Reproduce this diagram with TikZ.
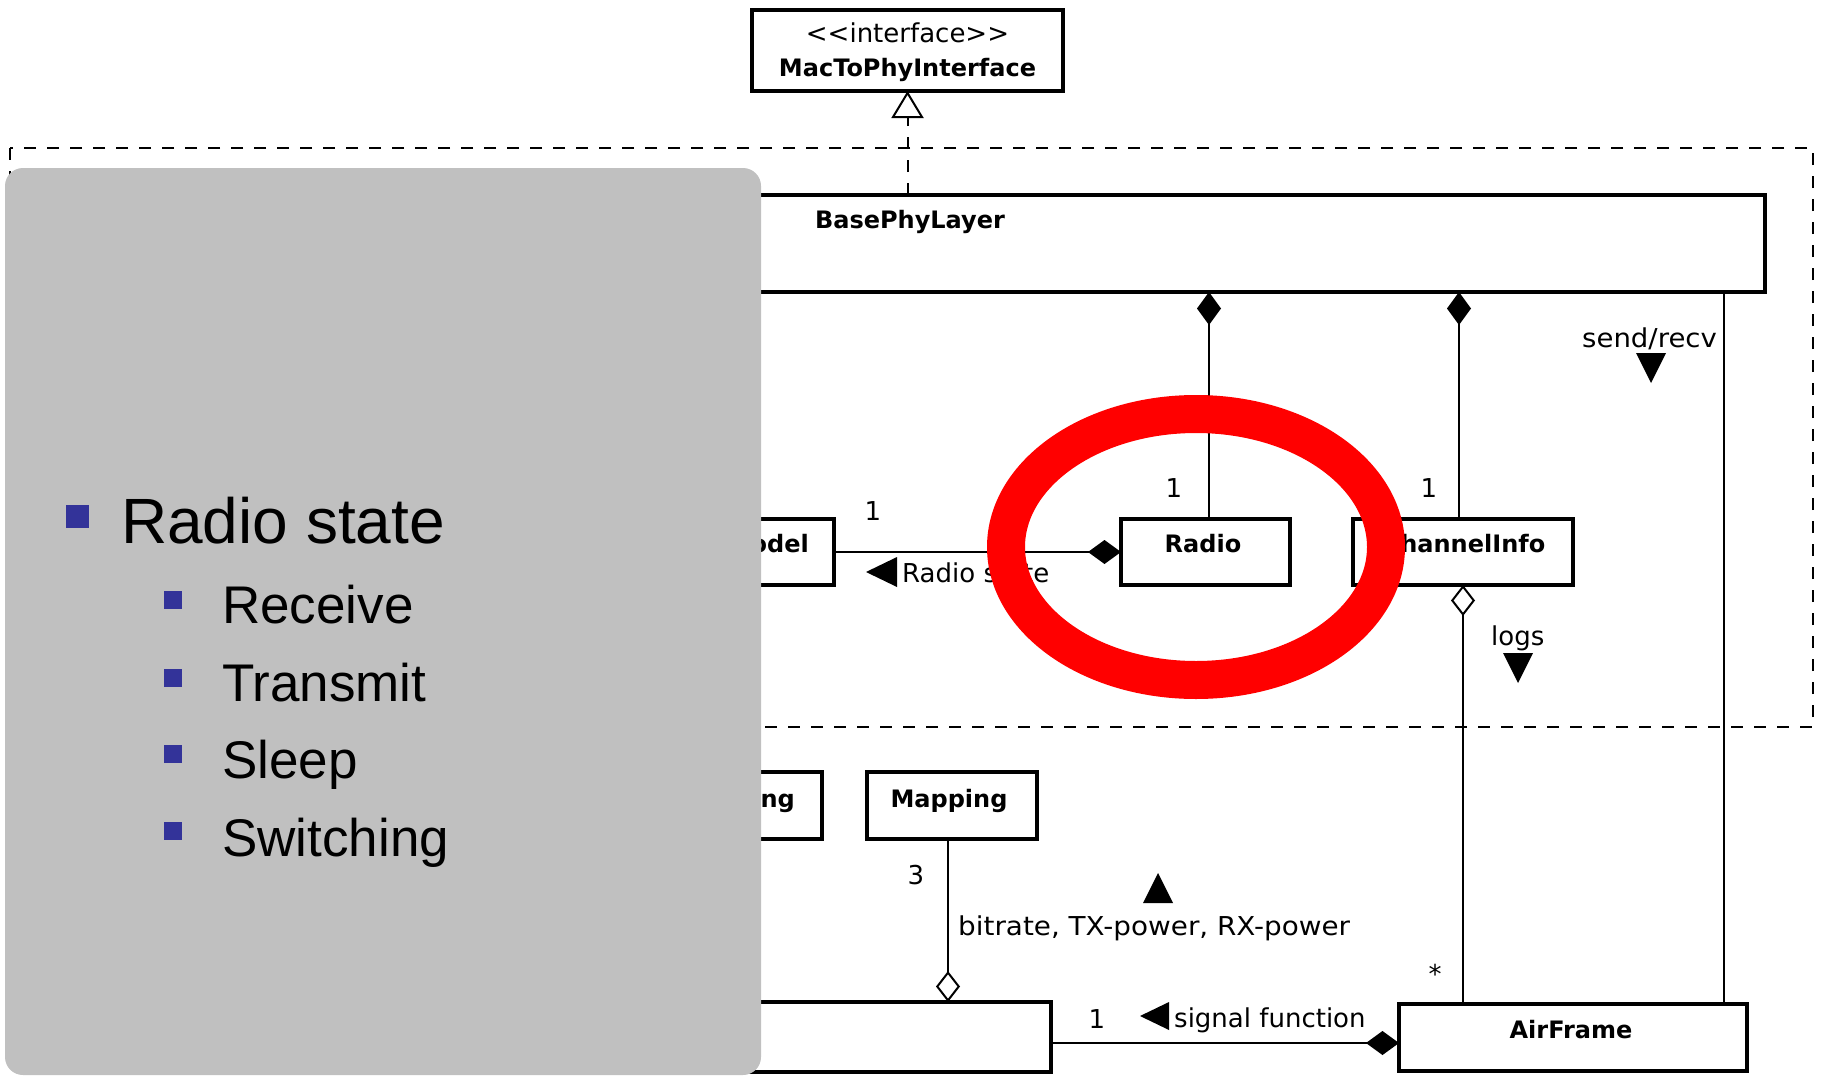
\documentclass[tikz,border=0pt]{standalone}
\usepackage{fontspec}
\newfontfamily\umlfont{DejaVu Sans}
\newfontfamily\slidefont{Liberation Sans}
\usetikzlibrary{arrows.meta}
\definecolor{panelgray}{RGB}{192,192,192}
\definecolor{bulletblue}{RGB}{51,51,153}

\tikzset{
  umlbox/.style={draw, line width=4pt, fill=white, inner sep=0pt, outer sep=0pt},
  clsname/.style={inner sep=0pt, font=\umlfont\bfseries\fontsize{24}{29}\selectfont},
  lbl/.style={inner sep=0pt, font=\umlfont\fontsize{26}{31}\selectfont},
  assoc/.style={line width=2pt},
  comp/.style={assoc, arrows={Diamond[length=33pt,width=24pt]-}},
  compend/.style={assoc, arrows={-Diamond[length=33pt,width=24pt]}},
  agg/.style={assoc, arrows={Diamond[open,length=31pt,width=24pt]-}},
  aggend/.style={assoc, arrows={-Diamond[open,length=31pt,width=24pt]}},
  realize/.style={line width=2pt, dash pattern=on 12pt off 11pt,
    arrows={-Triangle[open,length=27pt,width=32pt]}},
  pkgframe/.style={line width=2.5pt, dash pattern=on 12pt off 11pt},
  dirmark/.style={fill=black},
  ring/.style={draw=red, line width=38pt},
  panel/.style={fill=panelgray, rounded corners=18pt, inner sep=0pt},
  bulletsq/.style={fill=bulletblue, inner sep=0pt},
  slidemain/.style={inner sep=0pt, font=\slidefont\fontsize{64}{76}\selectfont},
  slidesub/.style={inner sep=0pt, font=\slidefont\fontsize{53}{63}\selectfont}
}

\begin{document}
\begin{tikzpicture}[x=1pt,y=-1pt]
\useasboundingbox (0,0) rectangle (1821,1076);
\fill[white] (0,0) rectangle (1821,1076);

% package frame
\draw[pkgframe] (10,148) rectangle (1813,727);

% classes
\node[umlbox, minimum width=311pt, minimum height=81pt] (mac) at (907.5,50.5) {};
\node[lbl, anchor=base] (macster) at (907.5,42) {<{}<interface>{}>};
\node[clsname, anchor=base] (macname) at (907.5,76) {MacToPhyInterface};

\node[umlbox, minimum width=1063pt, minimum height=97pt] (base) at (1233.5,243.5) {};
\node[clsname, anchor=base] (basename) at (910,228) {BasePhyLayer};

\node[umlbox, minimum width=132pt, minimum height=66pt] (model) at (768,552) {};
\node[clsname, anchor=base east] (modelname) at (809,552) {odel};

\node[umlbox, minimum width=169pt, minimum height=66pt] (radio) at (1205.5,552) {};
\node[clsname, anchor=base] (radioname) at (1203,552) {Radio};

\node[umlbox, minimum width=220pt, minimum height=66pt] (chan) at (1463,552) {};
\node[clsname, anchor=base] (channame) at (1464,552) {ChannelInfo};

\node[umlbox, minimum width=120pt, minimum height=67pt] (ngbox) at (762,805.5) {};
\node[clsname, anchor=base east] (ngname) at (795,807) {ng};

\node[umlbox, minimum width=170pt, minimum height=67pt] (mapping) at (952,805.5) {};
\node[clsname, anchor=base] (mapname) at (949,807) {Mapping};

\node[umlbox, minimum width=349pt, minimum height=70pt] (sig) at (876.5,1037) {};

\node[umlbox, minimum width=348pt, minimum height=67pt] (air) at (1573,1037.5) {};
\node[clsname, anchor=base] (airname) at (1571,1038) {AirFrame};

% connector taps
\coordinate (radiotap) at ([xshift=3.5pt]radio.north);
\coordinate (chantap) at ([xshift=-4pt]chan.north);
\coordinate (airtap) at ([xshift=-23pt]air.north east);
\coordinate (maptap) at ([xshift=-4pt]mapping.south);
\coordinate (sigtap) at ([yshift=-6pt]sig.east);

% connectors
\draw[realize] (mac.south |- base.north) -- (mac.south);
\draw[comp] (radiotap |- base.south) -- (radiotap);
\draw[comp] (chantap |- base.south) -- (chantap);
\draw[comp] (radio.west) -- (model.east);
\draw[agg] (chan.south) -- (chan.south |- air.north);
\draw[assoc] (airtap |- base.south) -- (airtap);
\draw[aggend] (maptap) -- (maptap |- sig.north);
\draw[compend] (sigtap) -- (sigtap -| air.west);

% multiplicities and association labels
\node[lbl, anchor=base] (m1) at (1174,497) {1};
\node[lbl, anchor=base] (m2) at (1429,497) {1};
\node[lbl, anchor=base] (m3) at (873,520) {1};
\node[lbl, anchor=base] (m4) at (916,884) {3};
\node[lbl, anchor=base] (m5) at (1097,1028) {1};
\node[lbl, anchor=base] (m6) at (1435,983) {*};

\node[lbl, anchor=base west] (lsend) at (1582,347) {\scalebox{1.06}[1]{send/recv}};
\node[lbl, anchor=base west] (llogs) at (1491,645) {logs};
\node[lbl, anchor=base west] (lstate) at (902,582) {Radio state};
\node[lbl, anchor=base west] (lbit) at (958,935) {\scalebox{1.07}[1]{bitrate, TX-power, RX-power}};
\node[lbl, anchor=base west] (lsignal) at (1174,1027) {signal function};

% reading-direction markers
\fill[dirmark] (866,572) -- (897,557) -- (897,587) -- cycle;
\fill[dirmark] (1651,383) -- (1636,353) -- (1666,353) -- cycle;
\fill[dirmark] (1518,683) -- (1503,653) -- (1533,653) -- cycle;
\fill[dirmark] (1158,873) -- (1143,903) -- (1173,903) -- cycle;
\fill[dirmark] (1140,1016) -- (1169,1002) -- (1169,1030) -- cycle;

% highlight ring
\draw[ring] (1196,547) ellipse [x radius=190pt, y radius=133pt];

% overlay panel with bullet list
\node[panel, minimum width=756pt, minimum height=907pt] (pnl) at (383,621.5) {};
\node[bulletsq, minimum size=23pt] (b0) at (77,516) {};
\node[slidemain, anchor=base west] (t0) at (121,543) {Radio state};
\node[bulletsq, minimum size=18pt] (b1) at (173,600) {};
\node[slidesub, anchor=base west] (t1) at (222,623) {Receive};
\node[bulletsq, minimum size=18pt] (b2) at (173,677.5) {};
\node[slidesub, anchor=base west] (t2) at (222,701) {Transmit};
\node[bulletsq, minimum size=18pt] (b3) at (173,754) {};
\node[slidesub, anchor=base west] (t3) at (222,778) {Sleep};
\node[bulletsq, minimum size=18pt] (b4) at (173,831) {};
\node[slidesub, anchor=base west] (t4) at (222,856) {Switching};
\end{tikzpicture}
\end{document}
